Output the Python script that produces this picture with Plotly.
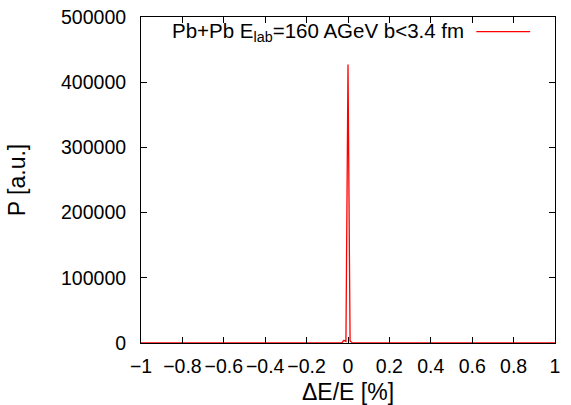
import plotly.graph_objects as go

# data
dE = [-1.0, -0.05, -0.03, -0.02, -0.01, 0.0, 0.01, 0.02, 0.03, 0.05, 1.0]
P = [0, 0, 0, 4000, 2500, 427000, 3000, 500, 0, 0, 0]

legend_label = "Pb+Pb E<sub>lab</sub>=160 AGeV b<3.4 fm"
x_ticks = [-1, -0.8, -0.6, -0.4, -0.2, 0, 0.2, 0.4, 0.6, 0.8, 1]
y_ticks = [0, 100000, 200000, 300000, 400000, 500000]

font = dict(family="Liberation Sans, Arial, Helvetica, sans-serif", size=19.5, color="black")

fig = go.Figure()
fig.add_trace(go.Scatter(x=dE, y=P, mode="lines", line=dict(color="red", width=1.3),
                         name=legend_label, showlegend=False))

fig.update_layout(
    width=571, height=405,
    margin=dict(l=141, r=16, t=17, b=62),
    paper_bgcolor="white", plot_bgcolor="white",
    font=font,
    xaxis=dict(range=[-1, 1], tickvals=x_ticks,
               ticktext=[("\u2212" if v < 0 else "") + ("%g" % abs(v)) for v in x_ticks],
               ticks="inside", ticklen=6, tickcolor="black", showline=True, linecolor="black",
               linewidth=1, mirror="ticks", showgrid=False, zeroline=False, automargin=False,
               ticklabelstandoff=6, ticklabeloverflow="allow",
               title=dict(text="\u0394E/E [%]", standoff=12)),
    yaxis=dict(range=[0, 500000], tickvals=y_ticks, ticktext=[str(v) for v in y_ticks],
               ticks="inside", ticklen=6, tickcolor="black", showline=True, linecolor="black",
               linewidth=1, mirror="ticks", showgrid=False, zeroline=False, automargin=False,
               ticklabelstandoff=10, ticklabeloverflow="allow",
               title=dict(text="P [a.u.]", standoff=28)),
)

# gnuplot-style key: text then line sample at right
fig.add_annotation(x=0.785, y=0.955, xref="paper", yref="paper", text=legend_label,
                   showarrow=False, xanchor="right", yanchor="middle",
                   font=dict(family=font["family"], size=20.5, color="black"))
fig.add_shape(type="line", xref="paper", yref="paper", x0=0.81, x1=0.94, y0=0.955, y1=0.955,
              line=dict(color="red", width=1.3))

fig.write_html("out.html", config={"displayModeBar": False},
               post_script="document.body.style.margin='0';document.body.style.overflow='hidden';")
